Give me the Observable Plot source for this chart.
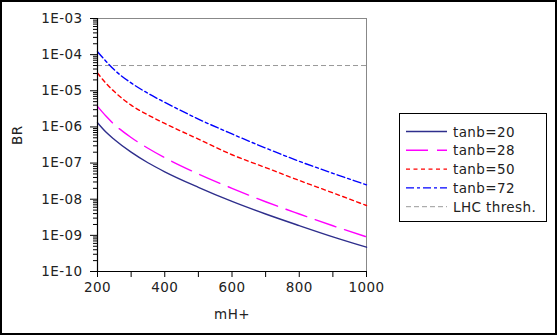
<!DOCTYPE html>
<html>
<head>
<meta charset="utf-8">
<script src="https://cdn.jsdelivr.net/npm/d3@7"></script>
<script src="https://cdn.jsdelivr.net/npm/@observablehq/plot@0.6"></script>
<style>
  html, body { margin: 0; padding: 0; background: #fff; }
  #wrap { position: relative; width: 557px; height: 335px; background: #fff; overflow: hidden; font-family: "DejaVu Sans", sans-serif; }
  #border { position: absolute; left: 0; top: 0; width: 557px; height: 335px; box-sizing: border-box; border: 2px solid #000; pointer-events: none; }
  #legend { position: absolute; left: 0; top: 0; }
  svg text { letter-spacing: 0.4px; }
</style>
</head>
<body>
<div id="wrap"><div id="border"></div></div>
<script>
// ---- data ----
const mass  = [200, 225, 250, 300, 350, 400, 500, 600, 700, 800, 900, 1000];
const br20  = [1.3e-6, 7.2e-7, 4.5e-7, 2.0e-7, 1.02e-7, 5.75e-8, 2.14e-8, 8.7e-9, 3.9e-9, 1.86e-9, 9.1e-10, 4.7e-10];
const br28  = [3.7e-6, 2.0e-6, 1.17e-6, 5.1e-7, 2.57e-7, 1.41e-7, 5.0e-8, 2.0e-8, 8.5e-9, 3.9e-9, 1.84e-9, 9.1e-10];
const br50  = [3.1e-5, 1.62e-5, 9.5e-6, 4.0e-6, 2.15e-6, 1.25e-6, 4.6e-7, 1.7e-7, 7.5e-8, 3.3e-8, 1.5e-8, 6.7e-9];
const br72  = [1.2e-4, 6.6e-5, 3.8e-5, 1.65e-5, 8.5e-6, 4.8e-6, 1.65e-6, 6.4e-7, 2.6e-7, 1.12e-7, 5.2e-8, 2.5e-8];
const lhcThreshold = 5e-5;
const seriesNames  = ["tanb=20", "tanb=28", "tanb=50", "tanb=72", "LHC thresh."];
const seriesColors = ["#2e2e8c", "#ff00ff", "#ff0000", "#0000ff", "#999999"];
const seriesDash   = [null, "22,9", "4,3.5", "8,3,3,3", "5,3"];
const xTicks       = [200, 300, 400, 500, 600, 700, 800, 900, 1000];
const xTickLabels  = ["200", "", "400", "", "600", "", "800", "", "1000"];
const yTicks       = [1e-10, 1e-9, 1e-8, 1e-7, 1e-6, 1e-5, 1e-4, 1e-3];
const yTickLabels  = ["1E-10", "1E-09", "1E-08", "1E-07", "1E-06", "1E-05", "1E-04", "1E-03"];
const xLabel = "mH+";
const yLabel = "BR";

// ---- build ----
const seriesValues = [br20, br28, br50, br72];
const rows = [];
seriesValues.forEach((vals, i) => mass.forEach((m, j) => rows.push({m, br: vals[j], s: i})));
const yMinor = [];
for (let e = -10; e < -3; e++) for (let k = 2; k <= 9; k++) yMinor.push(k * Math.pow(10, e));

const lineMarks = seriesValues.map((_, i) =>
  Plot.line(rows.filter(d => d.s === i), {
    x: "m", y: "br", stroke: seriesColors[i], strokeWidth: 1.4,
    strokeDasharray: seriesDash[i], curve: "monotone-x"
  })
);

const plot = Plot.plot({
  width: 557, height: 335,
  marginLeft: 97, marginRight: 191, marginTop: 18, marginBottom: 64,
  style: { fontFamily: "DejaVu Sans, sans-serif", fontSize: "13.5px", color: "#222", background: "transparent" },
  x: { domain: [200, 1000] },
  y: { type: "log", domain: [1e-10, 1e-3] },
  marks: [
    Plot.frame({ stroke: "#888", strokeWidth: 1 }),
    Plot.ruleY([lhcThreshold], { stroke: seriesColors[4], strokeWidth: 1, strokeDasharray: seriesDash[4] }),
    ...lineMarks,
    Plot.ruleX([200], { stroke: "#000", strokeWidth: 1.2 }),
    Plot.ruleY([1e-10], { stroke: "#000", strokeWidth: 1.2 }),
    Plot.axisX(xTicks, { tickSize: 6, tickPadding: 5, label: null, stroke: "#000",
      tickFormat: d => xTickLabels[xTicks.indexOf(d)] }),
    Plot.axisY(yTicks, { tickSize: 7, tickPadding: 8, label: null, stroke: "#000",
      tickFormat: d => yTickLabels[yTicks.indexOf(d)] }),
    Plot.axisY(yMinor, { tickSize: 4, label: null, stroke: "#000", tickFormat: () => "" }),
    Plot.text([xLabel], { frameAnchor: "bottom", dy: 47, fontSize: 13.5, fill: "#222" }),
    Plot.text([yLabel], { frameAnchor: "left", dx: -80, rotate: -90, fontSize: 13.5, fill: "#222" })
  ]
});
const wrap = document.getElementById("wrap");
wrap.insertBefore(plot, wrap.firstChild);

// ---- legend ----
const lg = d3.select(wrap).append("svg").attr("id", "legend")
  .attr("width", 557).attr("height", 335)
  .style("font-family", "DejaVu Sans, sans-serif");
lg.append("rect").attr("x", 399.5).attr("y", 113.5).attr("width", 147).attr("height", 108)
  .attr("fill", "#fff").attr("stroke", "#000").attr("stroke-width", 1);
seriesNames.forEach((name, i) => {
  const yy = 131.5 + i * 18.8;
  lg.append("line").attr("x1", 406).attr("x2", 447).attr("y1", yy).attr("y2", yy)
    .attr("stroke", seriesColors[i]).attr("stroke-width", i === 4 ? 1 : 1.4)
    .attr("stroke-dasharray", seriesDash[i]);
  lg.append("text").attr("x", 453).attr("y", yy + 5).text(name)
    .attr("font-size", "13.5px").attr("fill", "#222");
});
</script>
</body>
</html>
